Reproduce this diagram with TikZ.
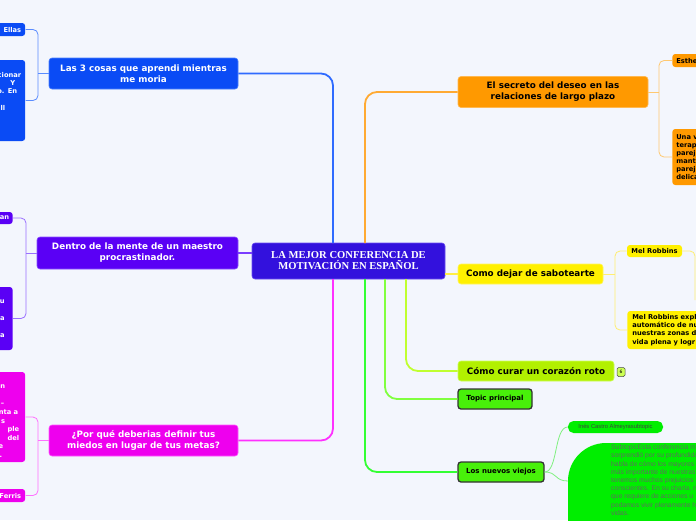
\documentclass[tikz,border=0pt]{standalone}
\usepackage{fontspec}
\newfontfamily\dvs{DejaVu Sans}
\newfontfamily\tms{Liberation Serif}
\newfontfamily\ari{Liberation Sans}
\newcommand\padr[2]{\mbox{#1\kern#2}}
\definecolor{bg}{HTML}{F3F6FD}
\definecolor{ccent}{HTML}{3311DD}
\definecolor{ccentB}{HTML}{6A4CF0}
\definecolor{cblue}{HTML}{0A4BF5}
\definecolor{cblueB}{HTML}{4A80FF}
\definecolor{lblue}{HTML}{2F6BFF}
\definecolor{tblue}{HTML}{5A8CFF}
\definecolor{cpur}{HTML}{5A00F5}
\definecolor{cpurB}{HTML}{8A50FF}
\definecolor{lpur}{HTML}{7A3DFF}
\definecolor{tpur}{HTML}{9A70FF}
\definecolor{cmag}{HTML}{EE00EE}
\definecolor{cmagB}{HTML}{FF55FF}
\definecolor{lmag}{HTML}{FF30FF}
\definecolor{tmag}{HTML}{FF70FF}
\definecolor{cora}{HTML}{FF9900}
\definecolor{coraB}{HTML}{FFB850}
\definecolor{lora}{HTML}{FFAA33}
\definecolor{tora}{HTML}{FFC870}
\definecolor{cyel}{HTML}{FFF000}
\definecolor{cyelB}{HTML}{FFF560}
\definecolor{lyel}{HTML}{FFEE44}
\definecolor{tyel}{HTML}{FFEE70}
\definecolor{clime}{HTML}{B2F000}
\definecolor{climeB}{HTML}{CCFF55}
\definecolor{llime}{HTML}{C0FF30}
\definecolor{ctop}{HTML}{48F00A}
\definecolor{ltop}{HTML}{80FF40}
\definecolor{lgrn}{HTML}{33FF33}
\definecolor{csub}{HTML}{00EE00}
\definecolor{tsub}{HTML}{80F080}
\definecolor{gtext}{HTML}{5E6E5E}
\begin{document}
\begin{tikzpicture}[x=1pt,y=-1pt,
  box/.style={rounded corners=3pt, inner sep=0pt, align=center, line width=0.6pt},
  ttl/.style={font=\dvs\bfseries\fontsize{8.8}{11}\selectfont},
  sml/.style={font=\dvs\bfseries\fontsize{6.7}{8.3}\selectfont},
  lchild/.style={box, sml, text=white, anchor=east, align=right, text width=70pt, inner xsep=4pt},
  rchild/.style={box, sml, text=black, anchor=west, align=left, text width=70pt, inner xsep=4pt},
  trunk/.style={line width=1.8pt, rounded corners=12pt},
  twig/.style={line width=0.8pt, rounded corners=5pt},
  darkbox/.style={box, draw=black!80, line width=1.3pt, fill=ctop, font=\dvs\bfseries\fontsize{7}{8}\selectfont, minimum height=20pt},
]
\useasboundingbox (0,0) rectangle (696,520);
\clip (0,0) rectangle (696,520);
\fill[bg] (0,0) rectangle (696,520);

% central
\node[box, fill=ccent, draw=ccentB, text=white, minimum width=193pt, minimum height=36pt,
  font=\tms\bfseries\fontsize{10.6}{11}\selectfont] (central) at (348.5,261)
  {LA MEJOR CONFERENCIA DE\\MOTIVACIÓN EN ESPAÑOL};

% left branches
\node[box, ttl, fill=cblue, draw=cblueB, text=white, minimum width=189pt, minimum height=31pt] (b1) at (143.5,73.5)
  {Las 3 cosas que aprendi mientras\\me moria};
\node[box, ttl, fill=cpur, draw=cpurB, text=white, minimum width=201pt, minimum height=32pt] (b2) at (137.5,253)
  {Dentro de la mente de un maestro\\procrastinador.};
\node[box, ttl, fill=cmag, draw=cmagB, text=white, minimum width=189pt, minimum height=31pt] (b3) at (143.5,440.5)
  {¿Por qué deberias definir tus\\miedos en lugar de tus metas?};

% right branches
\node[box, ttl, fill=cora, draw=coraB, text=black, minimum width=190pt, minimum height=31pt] (r1) at (553,92)
  {El secreto del deseo en las\\relaciones de largo plazo};
\node[box, ttl, fill=cyel, draw=cyelB, text=black, minimum width=145pt, minimum height=20pt] (r2) at (530.5,274)
  {Como dejar de sabotearte};
\node[box, ttl, fill=clime, draw=climeB, text=black, minimum width=156pt, minimum height=20pt] (r3) at (536,371)
  {Cómo curar un corazón roto};
\node[darkbox, minimum width=74pt] (r4) at (495,399) {Topic principal};
\node[darkbox, minimum width=86pt] (r5) at (501,472) {Los nuevos viejos};
\node[box, draw=black!70, line width=0.5pt, fill=climeB, rounded corners=1.5pt, minimum width=8pt, minimum height=9pt,
  font=\dvs\fontsize{4.5}{5}\selectfont] (badge) at (621,372) {6};

% left children
\node[lchild, fill=cblue, minimum height=13pt] (c11) at (25.5,29.5) {: Ellas};
\node[lchild, fill=cblue, minimum height=81pt] (c12) at (25.5,100.5)
  {\strut\\cionar\\\padr{Y}{6pt}\\\padr{o. En}{4pt}\\\strut\\\padr{ll}{16pt}\\\strut\\\strut\\\strut};
\node[lchild, fill=cpur, minimum height=12pt, inner xsep=3.5pt] (c21) at (13,218) {an};
\node[lchild, fill=cpur, minimum height=63pt, inner xsep=8pt, font=\dvs\bfseries\fontsize{6.7}{8.5}\selectfont] (c22) at (13,318.5)
  {\strut\\u\\\strut\\a\\\strut\\ra\\\strut};
\node[lchild, fill=cmag, minimum height=90pt, inner xsep=6pt, font=\dvs\bfseries\fontsize{6.7}{8.6}\selectfont] (c31) at (25.5,417)
  {\strut\\\padr{n}{14pt}\\\strut\\\padr{–}{15pt}\\\padr{nta a}{1pt}\\\padr{s}{14pt}\\ple\\del\\\padr{e}{16pt}\\\padr{.\strut}{17pt}};
\node[lchild, fill=cmag, minimum height=13pt] (c32) at (25.5,495.5) {Ferris};

% right children
\node[rchild, fill=cora, minimum height=13pt] (c41) at (672,60.5) {Esthe};
\node[rchild, fill=cora, minimum height=56pt, font=\dvs\bfseries\fontsize{6.7}{8}\selectfont] (c42) at (672,157)
  {Una v\\terap\\parej\\mant\\parej\\delica};
\node[box, sml, fill=cyel, text=black, minimum width=55pt, minimum height=12pt] (c51) at (654.5,251) {Mel Robbins};
\node[rchild, fill=cyel, minimum height=38pt, inner xsep=5pt] (c52) at (627,330)
  {Mel Robbins expl\\automático de nu\\nuestras zonas d\\vida plena y logr};

% subtopics of Los nuevos viejos
\node[fill=csub, rounded corners=5.5pt, minimum width=95pt, minimum height=12pt, inner sep=0pt,
  font=\ari\fontsize{5.8}{7}\selectfont, text=black!75] (s1) at (615.5,427) {Inés Castro Almeyrasubtopic};
\fill[csub, rounded corners=38pt] (568,443) rectangle (820,600);
\node[anchor=north west, inner sep=0pt, align=left, text=gtext, font=\ari\fontsize{6.8}{8.2}\selectfont] (s2) at (611,444.5)
  {SubtopicEsta conferencia me\\sorprendió por su profundidad\\habla de cómo los mayores\\más importante de nuestras\\tenemos muchos prejuicios\\conscientes. En su charla, n\\que requiere de acciones u\\podamos vivir plenamente h\\vidas.};
\coordinate (s2w) at (568,481);

% trunk connectors
\coordinate (jb) at (333,243);
\coordinate (jm) at (333,279);
\coordinate (jo) at (365,243);
\coordinate (jl) at (406,279);
\coordinate (jt) at (385,279);
\coordinate (jg) at (365,279);
\draw[trunk, lblue] (jb) |- (b1.east);
\draw[trunk, lmag] (jm) |- (b3.east);
\draw[trunk, lpur] (b2.east) -- (b2.east -| central.west);
\draw[trunk, lora] (jo) |- (r1.west);
\draw[trunk, lyel] (r2.west -| central.east) -- (r2.west);
\draw[trunk, llime] (jl) |- (r3.west);
\draw[trunk, ltop] (jt) |- (r4.west);
\draw[trunk, lgrn] (jg) |- (r5.west);

% twig connectors
\coordinate (j1) at (38,73.5);
\draw[twig, tblue] (c11.east) -| (j1) |- (c12.east);
\draw[twig, tblue] (j1) -- (b1.west);
\coordinate (j2) at (26,253);
\draw[twig, tpur] (c21.east) -| (j2) |- (c22.east);
\draw[twig, tpur] (j2) -- (b2.west);
\coordinate (j3) at (38,440.5);
\draw[twig, tmag] (c31.east) -| (j3) |- (c32.east);
\draw[twig, tmag] (j3) -- (b3.west);
\coordinate (j4) at (659,92);
\draw[twig, tora] (c41.west) -| (j4) |- (c42.west);
\draw[twig, tora] (j4) -- (r1.east);
\coordinate (j5) at (615,274);
\draw[twig, tyel] (c51.west) -| (j5) |- (c52.west);
\draw[twig, tyel] (j5) -- (r2.east);
\coordinate (jr) at (695,300);
\draw[twig, tyel] (c51.east) -| (jr);
\draw[line width=0.8pt, tsub] (r5.east) .. controls (558,472) and (554,427) .. (s1.west);
\draw[line width=0.8pt, tsub] (r5.east) .. controls (558,472) and (554,481) .. (s2w);
\end{tikzpicture}
\end{document}
